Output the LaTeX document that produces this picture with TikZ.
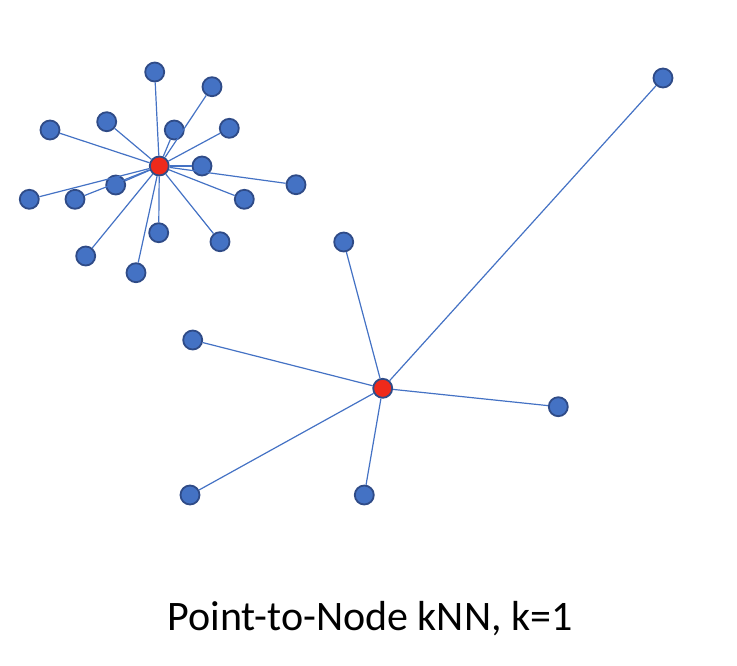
\documentclass[tikz,border=0pt]{standalone}
\usepackage{fontspec}
\setmainfont{Carlito}
\usepackage{tikz}
\usepackage{color}

\definecolor{ptblue}{HTML}{4472C4}
\definecolor{ptedge}{HTML}{2F4B87}
\definecolor{ptred}{HTML}{EE2A1B}

\begin{document}
\begin{tikzpicture}[x=1pt,y=-1pt,
	pt/.style={circle, fill=ptblue, draw=ptedge, line width=1.8pt, minimum size=19pt, inner sep=0pt},
	hub/.style={pt, fill=ptred},
	link/.style={draw=ptblue, line width=1.2pt}]
	  \useasboundingbox (0,0) rectangle (737,665);

	  % Nodes, first cluster
	  \node[hub] (hubA) at (159.3,166) {};
	  \node[pt] (a1) at (154.7,72) {};
	  \node[pt] (a2) at (212,86.7) {};
	  \node[pt] (a3) at (106.7,121.7) {};
	  \node[pt] (a4) at (50,130) {};
	  \node[pt] (a5) at (174.3,130) {};
	  \node[pt] (a6) at (229.3,128.3) {};
	  \node[pt] (a7) at (202,166) {};
	  \node[pt] (a8) at (296,184.7) {};
	  \node[pt] (a9) at (115.7,185) {};
	  \node[pt] (a10) at (29.3,199.3) {};
	  \node[pt] (a11) at (75,199.3) {};
	  \node[pt] (a12) at (244.3,199.3) {};
	  \node[pt] (a13) at (158.7,232.7) {};
	  \node[pt] (a14) at (220,241.7) {};
	  \node[pt] (a15) at (85.7,256) {};
	  \node[pt] (a16) at (136,272.7) {};

	  % Nodes, second cluster
	  \node[hub] (hubB) at (382.7,388.3) {};
	  \node[pt] (b1) at (663,78) {};
	  \node[pt] (b2) at (343.7,242) {};
	  \node[pt] (b3) at (192.7,340) {};
	  \node[pt] (b4) at (558.3,406.7) {};
	  \node[pt] (b5) at (190,495) {};
	  \node[pt] (b6) at (364.3,495) {};

	  % Edges
	  \draw[link] (hubA) -- (a1);
	  \draw[link] (hubA) -- (a2);
	  \draw[link] (hubA) -- (a3);
	  \draw[link] (hubA) -- (a4);
	  \draw[link] (hubA) -- (a5);
	  \draw[link] (hubA) -- (a6);
	  \draw[link] (hubA) -- (a7);
	  \draw[link] (hubA) -- (a8);
	  \draw[link] (hubA) -- (a9);
	  \draw[link] (hubA) -- (a10);
	  \draw[link] (hubA) -- (a11);
	  \draw[link] (hubA) -- (a12);
	  \draw[link] (hubA) -- (a13);
	  \draw[link] (hubA) -- (a14);
	  \draw[link] (hubA) -- (a15);
	  \draw[link] (hubA) -- (a16);
	  \draw[link] (hubB) -- (b1);
	  \draw[link] (hubB) -- (b2);
	  \draw[link] (hubB) -- (b3);
	  \draw[link] (hubB) -- (b4);
	  \draw[link] (hubB) -- (b5);
	  \draw[link] (hubB) -- (b6);

	  % Caption
	  \node[font=\fontsize{42}{50}\selectfont, anchor=base] (caption) at (370,630) {Point-to-Node kNN, k=1};
\end{tikzpicture}
\end{document}
